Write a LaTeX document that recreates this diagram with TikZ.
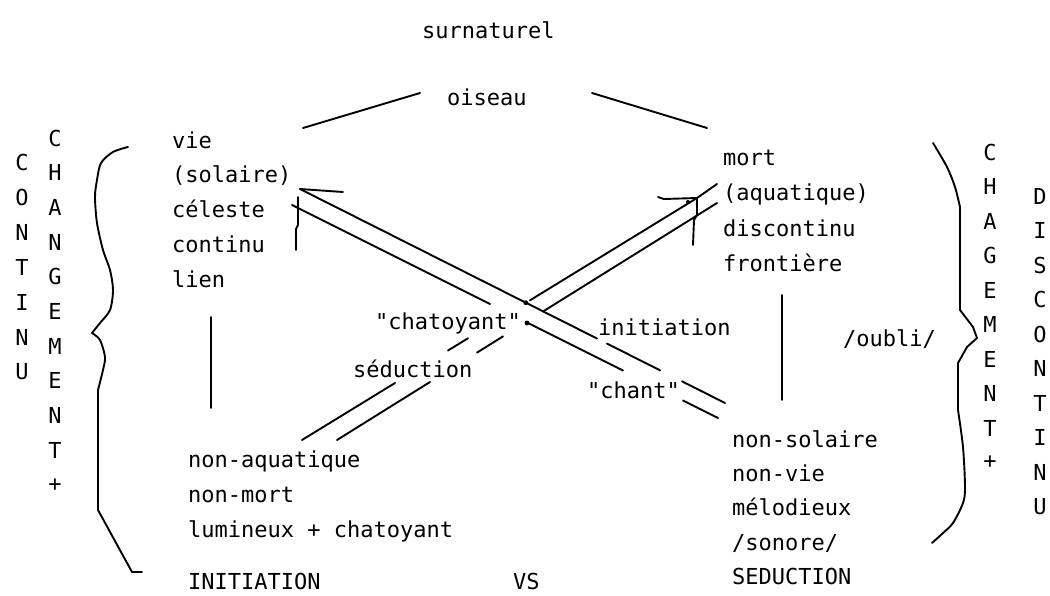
\documentclass[tikz,border=0pt]{standalone}
\usepackage{fontspec}
\newfontfamily\gen{DejaVu Sans Mono}
\begin{document}
\begin{tikzpicture}[x=1pt,y=-1pt,
  lbl/.style={font=\gen\fontsize{22}{22}\selectfont, inner sep=0pt, anchor=base west},
  ltr/.style={font=\gen\fontsize{22}{22}\selectfont, inner sep=0pt, anchor=center},
  ln/.style={line width=1.9pt, line cap=round},
  brace/.style={line width=1.9pt, line join=round, line cap=round}]
\useasboundingbox (0,0) rectangle (1050,595);

% --- top
\node[lbl] (surn) at (422,38) {surnaturel};
\node[lbl] (ois) at (447,105) {oiseau};
\coordinate (oisL1) at (303,128); \coordinate (oisL2) at (420,93);
\coordinate (oisR1) at (592,93);  \coordinate (oisR2) at (707,128);
\draw[ln] (oisL1) -- (oisL2);
\draw[ln] (oisR1) -- (oisR2);

% --- left upper block
\node[lbl] (v1) at (172,148) {vie};
\node[lbl] (v2) at (172,182.75) {(solaire)};
\node[lbl] (v3) at (172,217.5) {céleste};
\node[lbl] (v4) at (172,252.25) {continu};
\node[lbl] (v5) at (172,287) {lien};

% --- right upper block
\node[lbl] (m1) at (723,165) {mort};
\node[lbl] (m2) at (723,200) {(aquatique)};
\node[lbl] (m3) at (723,236) {discontinu};
\node[lbl] (m4) at (723,271) {frontière};

% --- left lower block
\node[lbl] (n1) at (188,467) {non-aquatique};
\node[lbl] (n2) at (188,502) {non-mort};
\node[lbl] (n3) at (188,537) {lumineux + chatoyant};
\node[lbl] (init) at (188,589) {INITIATION};
\node[lbl] (vs) at (513,589) {VS};

% --- right lower block
\node[lbl] (s1) at (732,447) {non-solaire};
\node[lbl] (s2) at (732,481.4) {non-vie};
\node[lbl] (s3) at (732,515.8) {mélodieux};
\node[lbl] (s4) at (732,550.2) {/sonore/};
\node[lbl] (s5) at (732,584.6) {SEDUCTION};

% --- middle labels
\node[lbl] (chat) at (375,329) {"chatoyant"};
\node[lbl] (initi) at (598,335) {initiation};
\node[lbl] (sedu) at (353,377) {séduction};
\node[lbl] (chant) at (587,398) {"chant"};
\node[lbl] (oubli) at (843,346) {/oubli/};

% --- vertical connectors
\coordinate (vl1) at (211,317); \coordinate (vl2) at (211,408);
\coordinate (vr1) at (782,295); \coordinate (vr2) at (782,400);
\draw[ln] (vl1) -- (vl2);
\draw[ln] (vr1) -- (vr2);

% --- letter columns
\foreach \c [count=\i from 0] in {C,O,N,T,I,N,U}
  \node[ltr] (lc\i) at (22,162+35*\i) {\c};
\foreach \c [count=\i from 0] in {C,H,A,N,G,E,M,E,N,T,+}
  \node[ltr] (lg\i) at (55,138+34.7*\i) {\c};
\foreach \c [count=\i from 0] in {C,H,A,G,E,M,E,N,T,+}
  \node[ltr] (rg\i) at (990,152+34.5*\i) {\c};
\foreach \c [count=\i from 0] in {D,I,S,C,O,N,T,I,N,U}
  \node[ltr] (rd\i) at (1040,196+34.5*\i) {\c};

% --- braces
\draw[brace] plot[smooth,tension=0.5] coordinates {(128,147) (113,152) (101,163) (97,180) (95,197) (97,223) (103,250) (110,270) (113,290) (110,310) (100,323) (92,333)};
\draw[brace] plot[smooth,tension=0.5] coordinates {(92,333) (100,340) (105,357) (103,370) (98,390)} -- (98,510) -- (132,572) -- (142,572);
\draw[brace] plot[smooth,tension=0.5] coordinates {(933,143) (947,167) (955,187) (960,207)} -- (960,310) -- (973,327) -- (977,338);
\draw[brace] (977,338) -- (967,347) -- (958,363) -- (958,410) plot[smooth,tension=0.5] coordinates {(958,410) (963,447) (965,487) (963,503) (953,523) (943,533) (932,543)};

% --- double line "\" (vie -> non-solaire)
\coordinate (ua) at (300,189);
\draw[ln] (ua) -- (597,338.5);
\draw[ln] (607,343.6) -- (660,370.3);
\draw[ln] (682,381.3) -- (725,403);
\draw[ln] (292,205) -- (490,304);
\draw[ln] (528,323) -- (623,370.5);
\draw[ln] (683,400.5) -- (718,418);
% arrow barbs at vie
\draw[ln] (ua) -- (343,192);
\draw[ln] (298,197) -- (298,225) -- (296,229) -- (296,250);

% --- double line "/" (non-aquatique -> mort)
\coordinate (pa) at (697,198);
\draw[ln] (302,440) -- (395,383);
\draw[ln] (448,350.5) -- (468,338.3);
\draw[ln] (530,300.3) -- (pa) -- (717,184);
\draw[ln] (337,440) -- (430,382);
\draw[ln] (477,352.6) -- (503,336.4);
\draw[ln] (543,311.5) -- (717,203);
% arrow barbs at mort
\draw[ln] (658,197) -- (664,199) -- (pa);
\draw[ln] (pa) -- (697,215) -- (694,220) -- (693,245);

% --- crossing dots
\fill (525.8,302.7) circle (2.4pt);
\fill (527,323) circle (2.4pt);
\fill (688,202) circle (2pt);
\end{tikzpicture}
\end{document}
